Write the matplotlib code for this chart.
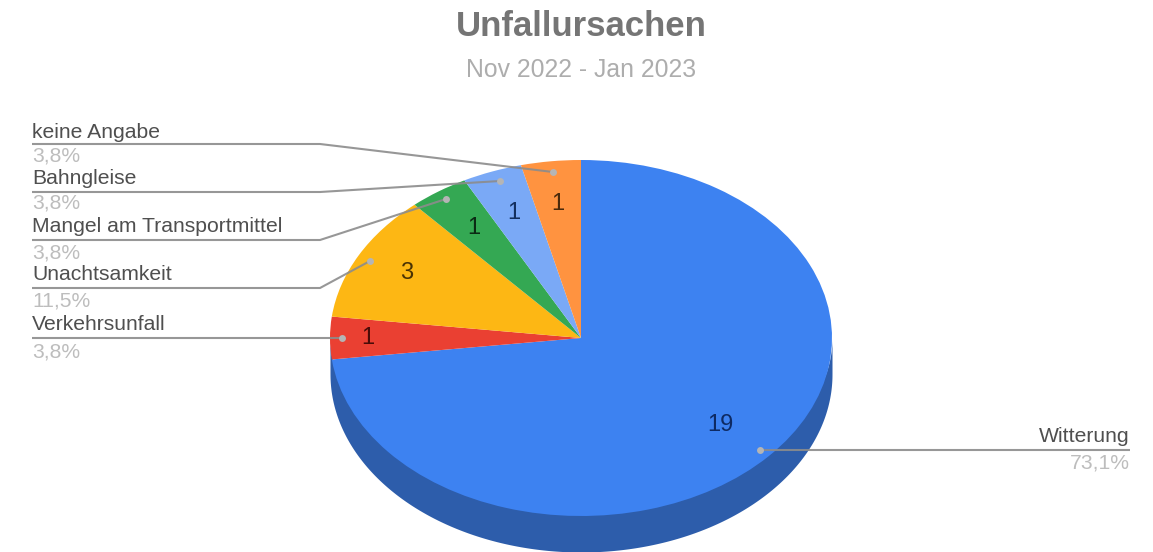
import numpy as np
from matplotlib import pyplot as plt

categories = ['Witterung', 'Verkehrsunfall', 'Unachtsamkeit',
              'Mangel am Transportmittel', 'Bahngleise', 'keine Angabe']
counts = [19, 1, 3, 1, 1, 1]
percent_labels = ['73,1%', '3,8%', '11,5%', '3,8%', '3,8%', '3,8%']

colors = ['#3d82f1', '#ea4032', '#fdb714', '#34a853', '#7aa9f6', '#ff9340']
side_color = '#2d5dab'
count_colors = ['#0e2a63', '#4a0c08', '#4a3304', '#0b2a14', '#14305f', '#4a2a0c']

# radial place of the count inside each slice
count_r = [0.74, 0.85, 0.785, 0.75, 0.75, 0.76]

# label rows: text y, percent y, line y, elbow x, line end
label_rows = {
    'keine Angabe': (132, 156, 144, 320, 553, 172),
    'Bahngleise': (178, 203, 192, 320, 500, 181),
    'Mangel am Transportmittel': (227, 253, 240, 320, 446, 199),
    'Unachtsamkeit': (275, 301, 288, 320, 370, 261),
    'Verkehrsunfall': (324, 352, 338, 320, 342, 338),
}

W, H = 1153, 552
fig = plt.figure(figsize=(W / 100, H / 100), dpi=100)
plt.rcParams['font.family'] = ['Liberation Sans', 'DejaVu Sans']

# pie ellipse spans x 330-832, y 160-516, the side goes on 36 px lower
depth = 36 / 178
ax = fig.add_axes([330 / W, 0, 502 / W, (H - 160) / H])
ax.pie(counts, colors=colors, startangle=90, counterclock=False, radius=1,
       wedgeprops={'linewidth': 0, 'zorder': 3})
ax.set_aspect('auto')
ax.set_xlim(-1, 1)
ax.set_ylim(-1 - depth, 1)

edges = np.cumsum([0] + counts) / sum(counts) * 2 * np.pi

# only the big slice shows a side
t = np.linspace(np.pi / 2, 3 * np.pi / 2, 300)
ax.fill_between(np.sin(t), np.cos(t) * 0.9, np.cos(t) - depth,
                color=side_color, linewidth=0, zorder=2)

for i in range(len(counts)):
    mid = (edges[i] + edges[i + 1]) / 2
    ax.text(count_r[i] * np.sin(mid), count_r[i] * np.cos(mid), str(counts[i]),
            ha='center', va='center', fontsize=17, color=count_colors[i], zorder=6)

# overlay in pixel coordinates for titles and leader lines
top = fig.add_axes([0, 0, 1, 1], facecolor='none')
top.set_xlim(0, W)
top.set_ylim(H, 0)
top.axis('off')

top.text(581, 27, 'Unfallursachen', ha='center', va='center', fontsize=25,
         fontweight='bold', color='#757575')
top.text(581, 70, 'Nov 2022 - Jan 2023', ha='center', va='center', fontsize=17.8,
         color='#adadad')

line_color = '#8c8c8c'
label_size = 15.2
for name, (ty, py, ly, ex, dx, dy) in label_rows.items():
    i = categories.index(name)
    top.text(32, ty, name, ha='left', va='center', fontsize=label_size, color='#4f4f4f')
    top.text(32, py, percent_labels[i], ha='left', va='center', fontsize=label_size, color='#bdbdbd')
    top.plot([32, ex, dx], [ly, ly, dy], color=line_color, lw=1.5, alpha=0.9, solid_capstyle='butt')
    top.plot(dx, dy, 'o', ms=5, color='#b5b5b5', mew=0)

top.text(1130, 436, categories[0], ha='right', va='center', fontsize=label_size, color='#4f4f4f')
top.text(1130, 463, percent_labels[0], ha='right', va='center', fontsize=label_size, color='#bdbdbd')
top.plot([760, 1130], [450, 450], color=line_color, lw=1.5, alpha=0.9, solid_capstyle='butt')
top.plot(760, 450, 'o', ms=5, color='#b5b5b5', mew=0)

fig.savefig('out.png', dpi=100)
